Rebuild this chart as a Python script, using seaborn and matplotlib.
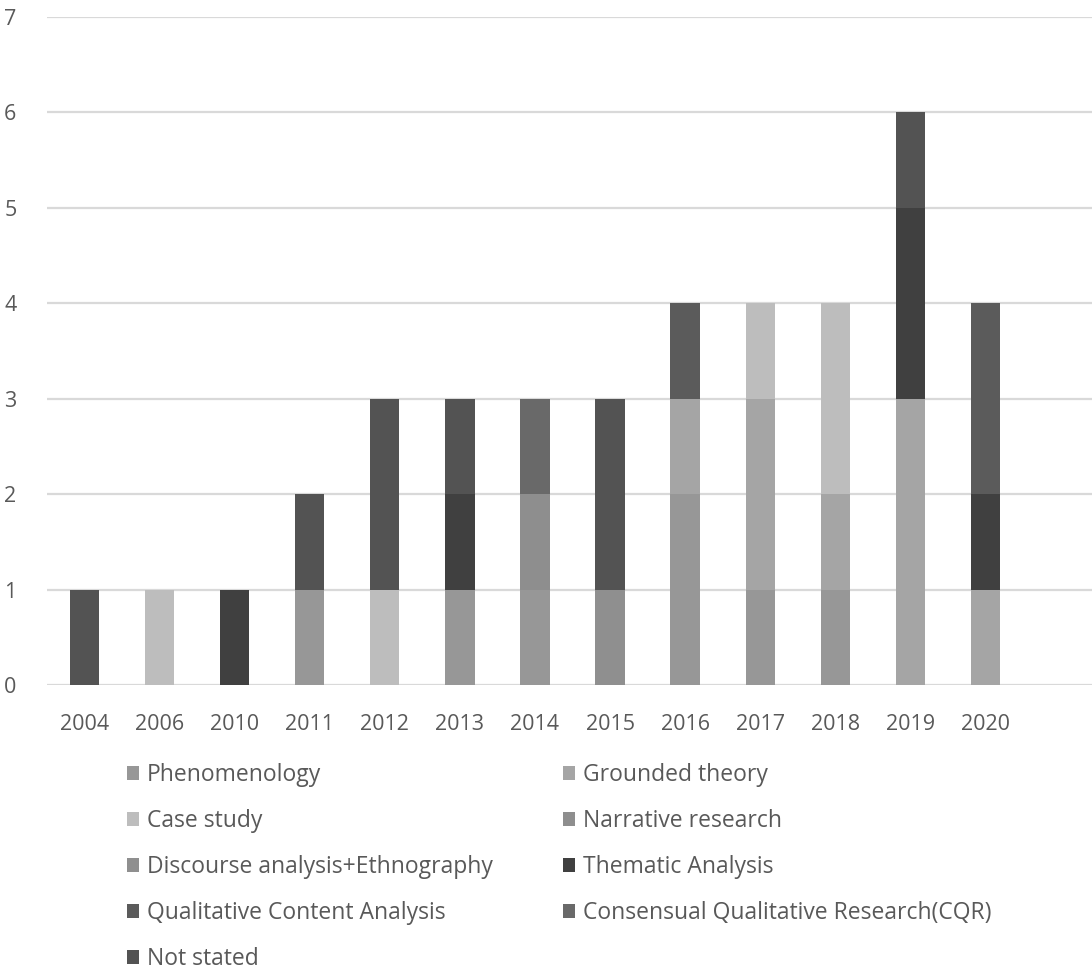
import matplotlib
matplotlib.use("Agg")
import matplotlib.pyplot as plt
from matplotlib.patches import Patch
import pandas as pd
import seaborn as sns

# Publication years (categories on the x axis)
years = ["2004", "2006", "2010", "2011", "2012", "2013", "2014",
         "2015", "2016", "2017", "2018", "2019", "2020"]

# Number of studies per method and year
phenomenology = [0, 0, 0, 1, 0, 1, 1, 0, 2, 1, 1, 0, 0]
grounded_theory = [0, 0, 0, 0, 0, 0, 0, 0, 1, 2, 1, 3, 1]
case_study = [0, 1, 0, 0, 1, 0, 0, 0, 0, 1, 2, 0, 0]
narrative_research = [0, 0, 0, 0, 0, 0, 1, 0, 0, 0, 0, 0, 0]
discourse_ethnography = [0, 0, 0, 0, 0, 0, 0, 1, 0, 0, 0, 0, 0]
thematic_analysis = [0, 0, 1, 0, 0, 1, 0, 0, 0, 0, 0, 2, 1]
qualitative_content = [0, 0, 0, 0, 0, 0, 0, 0, 1, 0, 0, 0, 2]
consensual_cqr = [0, 0, 0, 0, 0, 0, 1, 0, 0, 0, 0, 0, 0]
not_stated = [1, 0, 0, 1, 2, 1, 0, 2, 0, 0, 0, 1, 0]

methods = ["Phenomenology", "Grounded theory", "Case study", "Narrative research",
           "Discourse analysis+Ethnography", "Thematic Analysis",
           "Qualitative Content Analysis", "Consensual Qualitative Research(CQR)",
           "Not stated"]
series = [phenomenology, grounded_theory, case_study, narrative_research,
          discourse_ethnography, thematic_analysis, qualitative_content,
          consensual_cqr, not_stated]
colors = ["#979797", "#a5a5a5", "#bdbdbd", "#8e8e8e", "#8f8f8f",
          "#404040", "#5b5b5b", "#696969", "#535353"]

rows = []
for method, values in zip(methods, series):
    for i, (year, v) in enumerate(zip(years, values)):
        rows.append({"pos": i, "year": year, "method": method, "count": v})
df = pd.DataFrame(rows)

sns.set_theme(style="white")
plt.rcParams["font.family"] = ["Open Sans", "DejaVu Sans"]
text_color = "#595959"

fig = plt.figure(figsize=(10.92, 9.74), dpi=100)
ax = fig.add_axes([47 / 1092, 1 - 685 / 974, 1 - 47 / 1092, (685 - 17) / 974])

palette = dict(zip(methods, colors))
# seaborn stacks the first hue level on top, so pass the order reversed
sns.histplot(data=df, x="pos", weights="count", hue="method",
             hue_order=methods[::-1], palette=palette, multiple="stack",
             discrete=True, shrink=0.39, linewidth=0, alpha=1,
             legend=False, ax=ax, zorder=3)

ax.set_xlim(-0.5, len(years) + 0.42)
ax.set_ylim(0, 7)
ax.set_yticks(range(0, 8))
ax.set_xticks(range(len(years)))
ax.set_xticklabels(years)
ax.yaxis.grid(True, color="#d9d9d9", linewidth=1.6, zorder=0)
ax.set_axisbelow(True)
for s in ax.spines.values():
    s.set_visible(False)
ax.set_xlabel("")
ax.set_ylabel("")
ax.tick_params(axis="both", length=0, labelsize=15.5, colors=text_color)
ax.tick_params(axis="y", pad=22)
ax.tick_params(axis="x", pad=21)
for lbl in ax.get_yticklabels():
    lbl.set_horizontalalignment("right")

# Legend laid out row by row in two columns
handles = [Patch(facecolor=c, edgecolor="none") for c in colors]
order = [0, 2, 4, 6, 8, 1, 3, 5, 7]
fig.legend([handles[i] for i in order], [methods[i] for i in order],
           ncol=2, loc="upper left", bbox_to_anchor=(118 / 1092, 1 - 754 / 974),
           frameon=False, fontsize=16.5, labelcolor=text_color,
           handlelength=0.52, handleheight=0.52, handletextpad=0.35,
           columnspacing=3.05, labelspacing=0.96, borderaxespad=0)

fig.savefig("out.png", dpi=100)
